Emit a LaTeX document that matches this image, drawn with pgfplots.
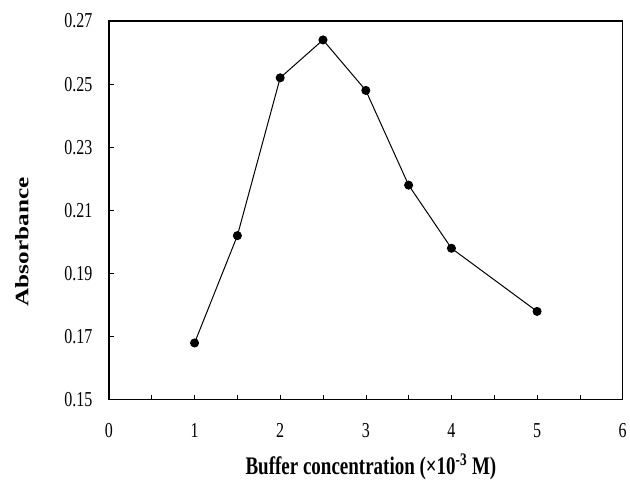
\documentclass[border=0pt]{standalone}
\usepackage{fontspec}
\setmainfont{Liberation Serif}
\usepackage{pgfplots}
\pgfplotsset{compat=1.18}

\begin{document}
\begin{tikzpicture}
\begin{axis}[
    scale only axis,
    width=514pt, height=379pt,
    xmin=0, xmax=6, ymin=0.15, ymax=0.27,
    xtick={0,1,2,3,4,5,6},
    minor x tick num=1,
    ytick={0.15,0.17,0.19,0.21,0.23,0.25,0.27},
    yticklabel style={/pgf/number format/fixed, /pgf/number format/precision=2, /pgf/number format/fixed zerofill, xshift=-13pt},
    xticklabel style={yshift=-14pt},
    /pgf/number format/assume math mode=true,
    tick align=inside, xtick pos=bottom, ytick pos=left,
    major tick length=5pt, minor tick length=5pt,
    tick style={black, line width=0.6pt},
    axis line style={line width=1.3pt},
    tick label style={font=\fontsize{16}{19}\selectfont, yscale=1.33},
    label style={font=\fontsize{19}{22}\selectfont\bfseries},
    xlabel={\scalebox{1}[1.33]{Buffer concentration (×10\textsuperscript{-3} M)}},
    ylabel={\scalebox{1.33}[1]{Absorbance}},
    xlabel style={at={(axis description cs:0.51,0)}, anchor=center, yshift=-67pt},
    ylabel style={at={(axis description cs:0,0.417)}, anchor=center, yshift=87pt},
]
\addplot[black, line width=1pt, mark=*, mark size=4pt]
    coordinates {(1,0.168)(1.5,0.202)(2,0.252)(2.5,0.264)(3,0.248)(3.5,0.218)(4,0.198)(5,0.178)};
\end{axis}
\path (current axis.south west) ++(-109pt,-81pt) rectangle ([shift={(7pt,21pt)}]current axis.north east);
\end{tikzpicture}
\end{document}
